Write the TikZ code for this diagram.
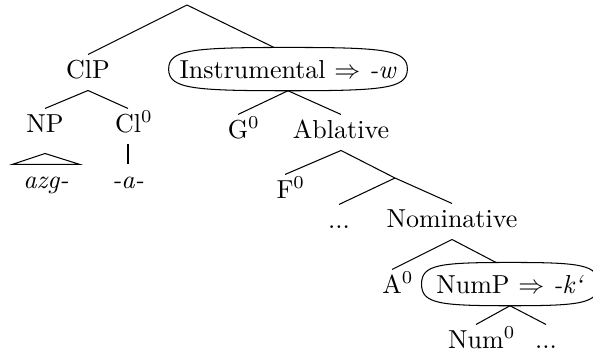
\documentclass[tikz,border=0pt]{standalone}
\usetikzlibrary{calc}
\newcommand\ovaloutline[1]{%
  \draw let \p1=(#1.west), \p2=(#1.north), \p3=(#1.east), \p4=(#1.south) in
   (\x1,\y1) .. controls (\x1,{\y2-0.8pt}) and ({0.9*\x1+0.1*\x3},\y2) .. (\x2,\y2)
   .. controls ({0.1*\x1+0.9*\x3},\y2) and (\x3,{\y2-0.8pt}) .. (\x3,\y3)
   .. controls (\x3,{\y4+0.8pt}) and ({0.1*\x1+0.9*\x3},\y4) .. (\x2,\y4)
   .. controls ({0.9*\x1+0.1*\x3},\y4) and (\x1,{\y4+0.8pt}) .. (\x1,\y1);}
\begin{document}
\begin{tikzpicture}[x=0.3846pt,y=-0.3846pt,
  lbl/.style={anchor=base, inner xsep=1pt, inner ysep=2pt, text height=6.85pt, text depth=2.6pt},
  oval/.style={anchor=base, inner xsep=4pt, inner ysep=4.7pt, text height=6.85pt, text depth=0pt},
  branch/.style={line width=0.4pt}]
\useasboundingbox (0,0) rectangle (593,351);
\coordinate (root) at (187,5);
\node[lbl] (clp) at (88,78) {ClP};
\node[oval] (inst) at (288,78) {Instrumental $\Rightarrow$ \textit{-w}};
\node[lbl] (np) at (45,132) {NP};
\node[lbl] (cl) at (128,132) {Cl\rlap{$^0$}};
\node[lbl] (g) at (238,138) {G\rlap{$^0$}};
\node[lbl] (abl) at (341,138) {Ablative};
\node[lbl] (azg) at (46,188) {\textit{azg-}};
\node[lbl] (a) at (128,188) {\textit{-a-}};
\node[lbl] (f) at (285,198) {F\rlap{$^0$}};
\coordinate (ab2) at (395,178);
\node[lbl] (d1) at (339,228) {...};
\node[lbl] (nom) at (452,227) {Nominative};
\node[lbl] (aa) at (392,293) {A\rlap{$^0$}};
\node[oval, inner xsep=5.5pt] (nump) at (510,293) {NumP $\Rightarrow$ \textit{-k`}};
\node[lbl] (num) at (476,348) {Num\rlap{$^0$}};
\node[lbl] (d2) at (546,348) {...};
\ovaloutline{inst}
\ovaloutline{nump}
\draw[branch] (root) -- (clp.north);
\draw[branch] (root) -- ($(inst.north)+(-14,0)$);
\draw[branch] (clp.south) -- (np.north);
\draw[branch] (clp.south) -- (cl.north);
\draw[branch] (inst.south) -- (g.north);
\draw[branch] (inst.south) -- (abl.north);
\draw[branch] ($(np.south)+(0,9)$) -- ($(azg.north)+(-34,0)$) -- ($(azg.north)+(34,0)$) -- cycle;
\draw[branch] (cl.south) -- (a.north);
\draw[branch] (abl.south) -- (f.north);
\draw[branch] (abl.south) -- (ab2);
\draw[branch] (ab2) -- (d1.north);
\draw[branch] (ab2) -- (nom.north);
\draw[branch] (nom.south) -- (aa.north);
\draw[branch] (nom.south) -- ($(nump.north)+(-14,0)$);
\draw[branch] (nump.south) -- (num.north);
\draw[branch] (nump.south) -- (d2.north);
\end{tikzpicture}
\end{document}
